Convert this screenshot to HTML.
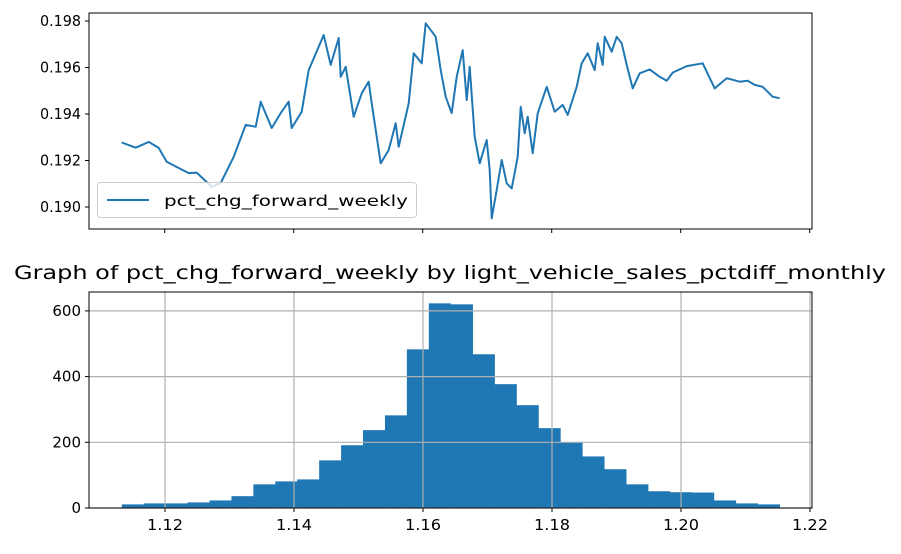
<!DOCTYPE html>
<html><head><meta charset="utf-8"><style>
html,body{margin:0;padding:0;background:#fff;}
svg{display:block;font-family:"DejaVu Sans","Liberation Sans",sans-serif;}
</style></head><body>
<svg id="fig" width="901" height="554" viewBox="0 0 901 554"></svg>
<script>
const days=[0,14,27,37,45,55,67,75,90,99,112,124,134,139,150,159,167,170,180,187,202,209,217,219,224,232,240,247,250,259,267,274,277,287,292,300,304,314,319,324,330,335,341,345,348,353,358,365,368,370,375,380,385,390,396,399,403,406,411,416,425,433,441,446,455,460,466,473,476,481,483,490,495,500,505,511,518,528,538,545,551,565,581,593,605,618,626,633,641,651,658];
const pctChg=[.19278,.19255,.1928,.19254,.19195,.19172,.19146,.19148,.19087,.19103,.19216,.19353,.19345,.19453,.1934,.19404,.19453,.1934,.1941,.19589,.1974,.19611,.19727,.1956,.19603,.19388,.19489,.19539,.19447,.19188,.19245,.1936,.19259,.19446,.19661,.19618,.1979,.19732,.19589,.19474,.19404,.1956,.19675,.1946,.19603,.19302,.19188,.19288,.19159,.18951,.19073,.19202,.19102,.1908,.19216,.19431,.19317,.19388,.19231,.19403,.19517,.1941,.19439,.19396,.19517,.19618,.19661,.19589,.19704,.19611,.19732,.19668,.19732,.19704,.19611,.1951,.19575,.19592,.1956,.19543,.19578,.19606,.19618,.1951,.19554,.19539,.19543,.19525,.19517,.19474,.19468];
const topYTicks=[0.190,0.192,0.194,0.196,0.198];
const topYLabels=["0.190","0.192","0.194","0.196","0.198"];
const topXTicks=[43,172,301,430,559,688];
const binStart=1.1133, binEnd=1.2153;
const counts=[11,14,14,17,23,36,72,81,87,145,191,237,282,483,623,620,468,377,313,243,200,157,118,72,51,48,47,23,14,11];
const histYTicks=[0,200,400,600];
const histXTicks=[1.12,1.14,1.16,1.18,1.20,1.22];
const histXLabels=["1.12","1.14","1.16","1.18","1.20","1.22"];

const NS="http://www.w3.org/2000/svg";
const svg=document.getElementById('fig');
function mk(t,a,p){const e=document.createElementNS(NS,t);for(const k in a)e.setAttribute(k,a[k]);(p||svg).appendChild(e);return e;}
const L=89,R=812;
const T0=13,T1=229;
const tx=d=>121.7+d;
const ty=v=>207-(v-0.190)*23250;
const g1=mk('g',{});


let pts=days.map((d,i)=>tx(d).toFixed(1)+','+ty(pctChg[i]).toFixed(1)).join(' ');
const line=mk('polyline',{points:pts,fill:'none',stroke:'#1f77b4','stroke-width':2,'stroke-linejoin':'round'},g1);


topYTicks.forEach((v,i)=>{const y=ty(v);
 mk('line',{x1:L-4,x2:L,y1:y,y2:y,stroke:'#000','stroke-width':1},g1);
 const t=mk('text',{x:L-8,y:y+5,'text-anchor':'end','font-size':15,textLength:41,lengthAdjust:'spacingAndGlyphs'},g1);t.textContent=topYLabels[i];
 
 });
topXTicks.forEach(d=>{const x=tx(d);mk('line',{x1:x,x2:x,y1:T1,y2:T1+4,stroke:'#000','stroke-width':1},g1);});
const f1=mk('rect',{x:L,y:T0,width:R-L,height:T1-T0,fill:'none',stroke:'#000','stroke-width':1},g1);


const lg=mk('g',{},g1);


mk('rect',{x:97.5,y:182.5,width:319,height:35,rx:3,fill:'#fff','fill-opacity':0.8,stroke:'#ccc'},lg);
mk('line',{x1:107,x2:149,y1:200,y2:200,stroke:'#1f77b4','stroke-width':2},lg);
const lt=mk('text',{x:164,y:206,'font-size':15.5,textLength:244,lengthAdjust:'spacingAndGlyphs'},lg);lt.textContent='pct_chg_forward_weekly';


const B0=292,B1=508;
const hx=v=>165+(v-1.12)*6450;
const hy=c=>508-c*0.3285;
const g2=mk('g',{});


const bw=(binEnd-binStart)/counts.length;
counts.forEach((c,i)=>{const x0=hx(binStart+i*bw),x1=hx(binStart+(i+1)*bw);
 const r=mk('rect',{x:x0,y:hy(c),width:x1-x0+0.3,height:B1-hy(c),fill:'#1f77b4'},g2);
 
 });
histXTicks.forEach((v,i)=>{const x=hx(v);
 mk('line',{x1:x,x2:x,y1:B0,y2:B1,stroke:'#b0b0b0','stroke-width':1.2},g2);
 mk('line',{x1:x,x2:x,y1:B1,y2:B1+4,stroke:'#000'},g2);
 const t=mk('text',{x:x,y:B1+22,'text-anchor':'middle','font-size':15,textLength:36,lengthAdjust:'spacingAndGlyphs'},g2);t.textContent=histXLabels[i];
 
 });
histYTicks.forEach(c=>{const y=hy(c);
 mk('line',{x1:L,x2:R,y1:y,y2:y,stroke:'#b0b0b0','stroke-width':1.2},g2);
 mk('line',{x1:L-4,x2:L,y1:y,y2:y,stroke:'#000'},g2);
 const t=mk('text',{x:L-8,y:y+5,'text-anchor':'end','font-size':15},g2);t.textContent=String(c);
 
 });
const f2=mk('rect',{x:L,y:B0,width:R-L,height:B1-B0,fill:'none',stroke:'#000','stroke-width':1},g2);


const tt=mk('text',{x:14,y:279,'font-size':19,textLength:872,lengthAdjust:'spacingAndGlyphs'});tt.textContent='Graph of pct_chg_forward_weekly by light_vehicle_sales_pctdiff_monthly';


</script>
</body></html>
